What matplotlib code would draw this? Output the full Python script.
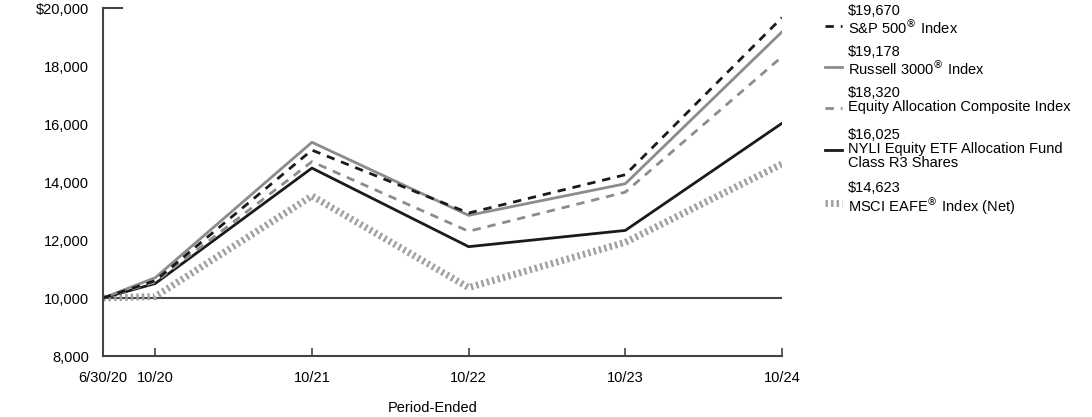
import matplotlib.pyplot as plt
from matplotlib.lines import Line2D

plt.rcParams['font.family'] = ['Liberation Sans', 'DejaVu Sans']

# years since 6/30/20
x = [0, 4 / 12, 16 / 12, 28 / 12, 40 / 12, 52 / 12]
xlabels = ['6/30/20', '10/20', '10/21', '10/22', '10/23', '10/24']

sp500 = [10000, 10600, 15100, 12930, 14250, 19670]
russell = [10000, 10700, 15370, 12850, 13940, 19178]
composite = [10000, 10550, 14700, 12300, 13650, 18320]
nyli = [10000, 10500, 14480, 11770, 12330, 16025]
msci = [10000, 10050, 13520, 10360, 11920, 14623]

names = ['S&P 500$^{®}$ Index', 'Russell 3000$^{®}$ Index',
         'Equity Allocation Composite Index',
         'NYLI Equity ETF Allocation Fund\nClass R3 Shares',
         'MSCI EAFE$^{®}$ Index (Net)']

styles = [
    dict(color='#1a1a1a', lw=2, ls=(0, (3, 2.5))),
    dict(color='#8c8c8c', lw=2, ls='-'),
    dict(color='#8c8c8c', lw=2, ls=(0, (3, 2.5))),
    dict(color='#1a1a1a', lw=2, ls='-'),
    dict(color='#a0a0a0', lw=5, ls=(0, (0.35, 0.45))),
]
series = [sp500, russell, composite, nyli, msci]
fs = 10.5

fig = plt.figure(figsize=(10.92, 4.17), dpi=100)
ax = fig.add_axes([103 / 1092, 1 - 356 / 417, (782 - 103) / 1092, (356 - 8) / 417])

ax.axhline(10000, color='#444444', lw=1.5, zorder=1)
for s, st in zip(series[::-1], styles[::-1]):
    ax.plot(x, s, zorder=2, **st)

ax.set_xlim(0, 52 / 12)
ax.set_ylim(8000, 20000)
ax.set_yticks(range(8000, 20001, 2000))
ax.set_yticklabels(['8,000', '10,000', '12,000', '14,000', '16,000', '18,000', '$20,000'])
ax.set_xticks(x)
ax.set_xticklabels(xlabels)
ax.tick_params(axis='y', length=0, pad=10, labelsize=fs)
ax.tick_params(axis='x', direction='in', length=6, width=1.2, color='#444444',
               pad=11, labelsize=fs)
ax.plot([0, 0.12], [20000, 20000], color='#444444', lw=1.5, clip_on=False)
for side in ['top', 'right']:
    ax.spines[side].set_visible(False)
for side in ['left', 'bottom']:
    ax.spines[side].set_color('#444444')
    ax.spines[side].set_linewidth(1.5)
ax.set_xlabel('Period-Ended', fontsize=fs)
ax.xaxis.set_label_coords((433 - 103) / 679, -(408 - 356) / 348)
ax.xaxis.label.set_va('center')

# legend
for s, st, name, t in zip(series, styles, names, [4, 45, 86, 128, 181]):
    yv = 1 - t / 417
    fig.text(848 / 1092, yv, '$' + format(s[-1], ','), fontsize=fs, va='top')
    fig.text(848 / 1092, yv - 14 / 417, name, fontsize=fs, va='top', linespacing=1.0)
    ly = 1 - (t + 22) / 417
    fig.add_artist(Line2D([825 / 1092, 842 / 1092], [ly, ly], transform=fig.transFigure, **st))

fig.savefig('out.png', dpi=100)
